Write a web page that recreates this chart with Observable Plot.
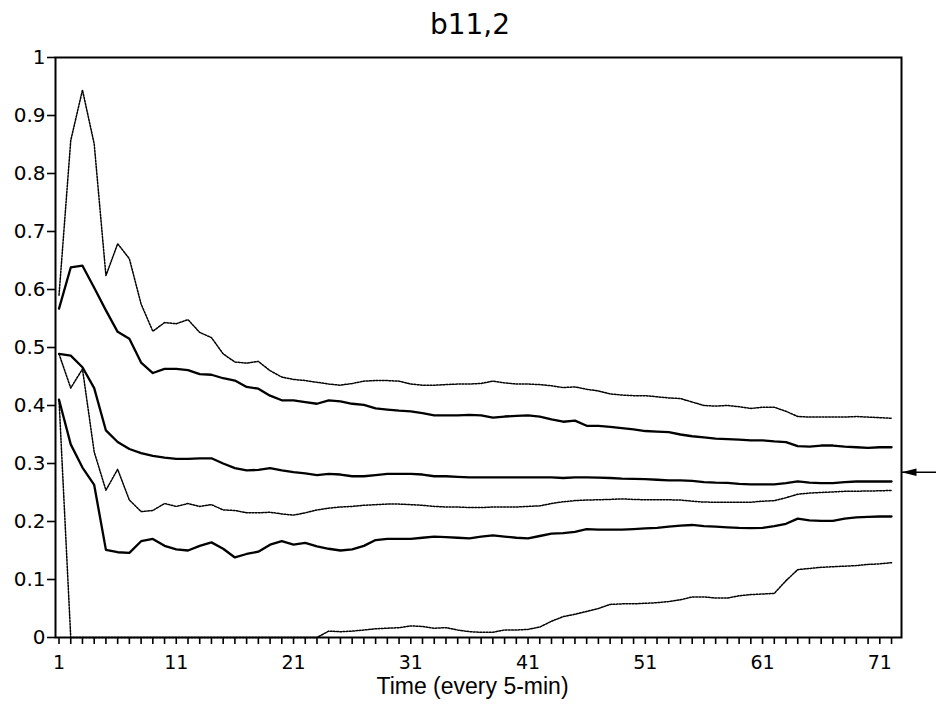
<!DOCTYPE html>
<html><head><meta charset="utf-8">
<script src="https://cdn.jsdelivr.net/npm/d3@7"></script>
<script src="https://cdn.jsdelivr.net/npm/@observablehq/plot@0.6"></script>
<style>
body{margin:0;background:#fff;font-family:"Liberation Sans",Arial,sans-serif;}
#title{height:40px;box-sizing:border-box;padding-top:11px;font-family:"DejaVu Sans",sans-serif;font-size:28px;line-height:28px;text-align:center;width:936px;position:relative;left:2px;color:#000;}
#chart svg{display:block;}
</style></head><body>
<div id="title">b11,2</div>
<div id="chart"></div>
<script>
const titleText = "b11,2";
const xLabel = "Time (every 5-min)";
const time = d3.range(1, 73);
const xTickLabels = [1, 11, 21, 31, 41, 51, 61, 71];
const yTicks = [0, 0.1, 0.2, 0.3, 0.4, 0.5, 0.6, 0.7, 0.8, 0.9, 1];
const arrowValue = 0.285;

// upper dotted
const upperDotted = [0.59,0.857,0.944,0.851,0.624,0.679,0.653,0.575,0.528,0.543,0.541,0.548,0.526,0.517,0.489,0.475,0.473,0.476,0.46,0.449,0.445,0.443,0.44,0.437,0.435,0.438,0.442,0.443,0.443,0.442,0.437,0.435,0.435,0.436,0.437,0.437,0.438,0.442,0.439,0.437,0.437,0.436,0.434,0.431,0.432,0.428,0.425,0.42,0.418,0.417,0.417,0.415,0.413,0.412,0.406,0.4,0.399,0.4,0.398,0.395,0.397,0.397,0.39,0.381,0.38,0.38,0.38,0.38,0.381,0.38,0.379,0.378];
// upper solid
const upperSolid = [0.567,0.638,0.641,0.603,0.564,0.527,0.515,0.474,0.456,0.463,0.463,0.461,0.454,0.453,0.447,0.443,0.432,0.429,0.417,0.409,0.409,0.406,0.403,0.409,0.407,0.403,0.401,0.395,0.393,0.391,0.39,0.387,0.383,0.383,0.383,0.384,0.383,0.379,0.381,0.382,0.383,0.381,0.376,0.372,0.374,0.365,0.365,0.363,0.361,0.359,0.356,0.355,0.354,0.35,0.347,0.345,0.343,0.342,0.341,0.34,0.34,0.338,0.337,0.33,0.329,0.331,0.331,0.329,0.328,0.327,0.328,0.328];
// middle solid
const middleSolid = [0.489,0.486,0.466,0.43,0.357,0.337,0.325,0.318,0.313,0.31,0.308,0.308,0.309,0.309,0.3,0.292,0.288,0.289,0.292,0.288,0.285,0.283,0.28,0.282,0.281,0.278,0.278,0.28,0.282,0.282,0.282,0.281,0.278,0.278,0.277,0.276,0.276,0.276,0.276,0.276,0.276,0.276,0.276,0.275,0.276,0.276,0.2755,0.275,0.274,0.2735,0.273,0.272,0.271,0.271,0.27,0.268,0.267,0.2665,0.265,0.264,0.264,0.264,0.266,0.269,0.267,0.266,0.266,0.268,0.269,0.269,0.269,0.269];
// middle dotted
const middleDotted = [0.489,0.43,0.463,0.32,0.254,0.29,0.237,0.217,0.219,0.231,0.226,0.231,0.226,0.229,0.22,0.219,0.215,0.215,0.216,0.213,0.211,0.215,0.22,0.223,0.225,0.226,0.228,0.229,0.23,0.23,0.229,0.228,0.226,0.225,0.225,0.224,0.224,0.225,0.225,0.225,0.226,0.227,0.231,0.234,0.236,0.237,0.2375,0.238,0.239,0.238,0.2375,0.2375,0.2374,0.237,0.235,0.2335,0.2333,0.2333,0.2333,0.2333,0.235,0.236,0.241,0.247,0.249,0.25,0.251,0.252,0.2523,0.2525,0.253,0.2535];
// lower solid
const lowerSolid = [0.41,0.333,0.293,0.263,0.151,0.147,0.146,0.166,0.17,0.158,0.152,0.15,0.158,0.164,0.153,0.138,0.144,0.148,0.16,0.166,0.16,0.163,0.157,0.153,0.15,0.152,0.158,0.168,0.17,0.17,0.17,0.172,0.174,0.173,0.172,0.171,0.174,0.176,0.174,0.172,0.171,0.175,0.179,0.18,0.182,0.187,0.186,0.186,0.186,0.187,0.188,0.189,0.191,0.193,0.194,0.192,0.191,0.19,0.189,0.1885,0.189,0.192,0.196,0.205,0.202,0.201,0.201,0.205,0.207,0.208,0.2086,0.2086];
// lower dotted
const lowerDotted = [0.41,0,0,0,0,0,0,0,0,0,0,0,0,0,0,0,0,0,0,0,0,0,0,0.011,0.01,0.011,0.013,0.015,0.016,0.017,0.02,0.019,0.016,0.017,0.013,0.01,0.009,0.009,0.013,0.013,0.014,0.018,0.028,0.036,0.04,0.045,0.05,0.057,0.058,0.058,0.059,0.06,0.062,0.065,0.07,0.07,0.068,0.068,0.072,0.074,0.075,0.076,0.098,0.117,0.119,0.121,0.122,0.123,0.124,0.126,0.127,0.129];

const solidSeries = {"upper": upperSolid, "middle": middleSolid, "lower": lowerSolid};
const dottedSeries = {"upper": upperDotted, "middle": middleDotted, "lower": lowerDotted};
const toRows = obj => Object.entries(obj).flatMap(([name, vals]) => vals.map((v, i) => ({t: time[i], v, name})));
const solidRows = toRows(solidSeries);
const dottedRows = toRows(dottedSeries);

const xDomain = [0.7, 72.85];
const arrowHead = {
  draw(context) {
    context.moveTo(0, 0);
    context.lineTo(15, -3.8);
    context.lineTo(15, 3.8);
    context.closePath();
  }
};
const tickFont = "DejaVu Sans";
const fmt = d3.format("~g");

const chart = Plot.plot({
  width: 936,
  height: 668,
  marginLeft: 55,
  marginRight: 35,
  marginTop: 17,
  marginBottom: 71,
  style: {fontFamily: "'Liberation Sans', Arial, sans-serif", fontSize: "20px", color: "#000", background: "#fff"},
  x: {domain: xDomain},
  y: {domain: [0, 1]},
  marks: [
    Plot.line(dottedRows, {x: "t", y: "v", z: "name", stroke: "#000", strokeWidth: 1.5, strokeDasharray: "1.8,1.4"}),
    Plot.line(solidRows, {x: "t", y: "v", z: "name", stroke: "#000", strokeWidth: 2.3}),
    Plot.frame({stroke: "#000", strokeWidth: 2}),
    Plot.axisY({ticks: yTicks, tickSize: 8, tickFormat: () => "", label: null, strokeWidth: 1.6}),
    Plot.axisX({ticks: time, tickSize: 7, tickFormat: () => "", label: null, strokeWidth: 1.6}),
    Plot.text(yTicks, {y: d => d, text: d => fmt(d), frameAnchor: "left", dx: -10, textAnchor: "end", fontFamily: tickFont, fontSize: 20, fill: "#000"}),
    Plot.text(xTickLabels, {x: d => d, text: d => String(d), frameAnchor: "bottom", lineAnchor: "top", dy: 18, fontFamily: tickFont, fontSize: 19, fill: "#000"}),
    Plot.text([xLabel], {frameAnchor: "bottom", dx: -6, dy: 56, fontSize: 23, fill: "#000"}),
    Plot.ruleY([arrowValue], {x1: xDomain[1], x2: 76, stroke: "#000", strokeWidth: 1.6}),
    Plot.dot([arrowValue], {x: () => xDomain[1], y: d => d, symbol: arrowHead, fill: "#000", stroke: "none"})
  ]
});
document.getElementById("chart").appendChild(chart);
</script></body></html>
